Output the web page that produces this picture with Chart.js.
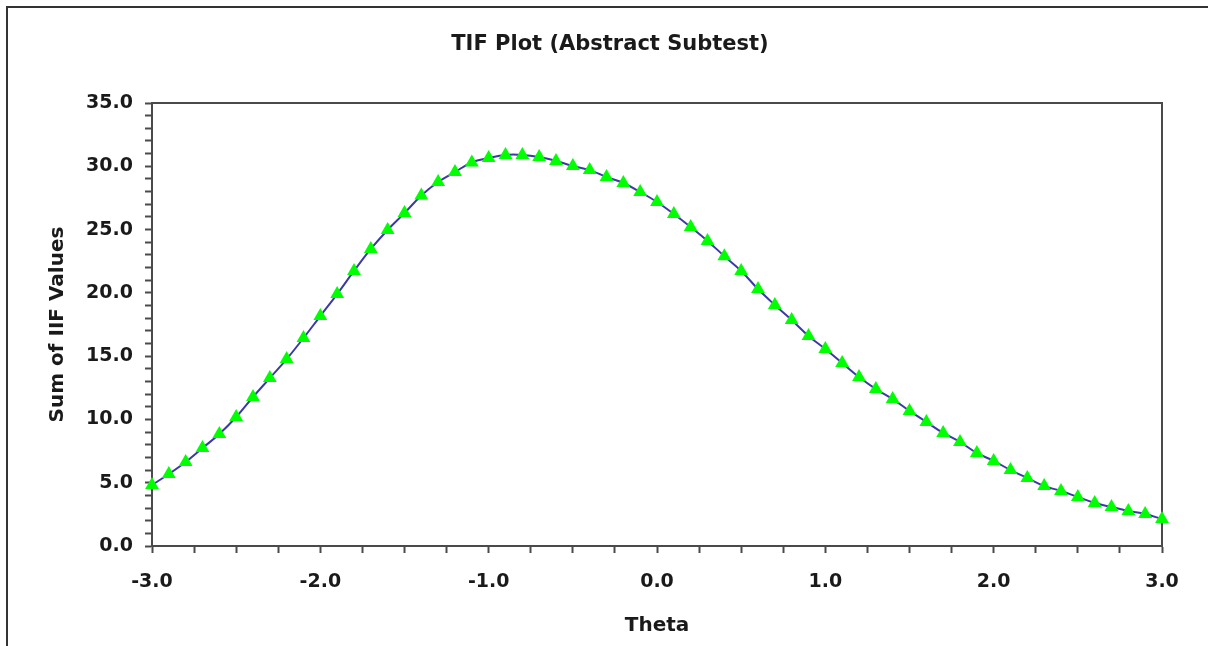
<!DOCTYPE html>
<html>
<head>
<meta charset="utf-8">
<title>TIF Plot (Abstract Subtest)</title>
<script src="https://cdn.jsdelivr.net/npm/chart.js@4.4.1/dist/chart.umd.min.js"></script>
<style>
  html, body { margin: 0; padding: 0; background: #ffffff; }
  #wrap { width: 1208px; height: 646px; position: relative; }
</style>
</head>
<body>
<div id="wrap"><canvas id="tif" width="1208" height="646"></canvas></div>
<script>
// Ability levels (theta) at which the test information function is evaluated
const theta = [
  -3.0, -2.9, -2.8, -2.7, -2.6, -2.5, -2.4, -2.3, -2.2, -2.1,
  -2.0, -1.9, -1.8, -1.7, -1.6, -1.5, -1.4, -1.3, -1.2, -1.1,
  -1.0, -0.9, -0.8, -0.7, -0.6, -0.5, -0.4, -0.3, -0.2, -0.1,
   0.0,  0.1,  0.2,  0.3,  0.4,  0.5,  0.6,  0.7,  0.8,  0.9,
   1.0,  1.1,  1.2,  1.3,  1.4,  1.5,  1.6,  1.7,  1.8,  1.9,
   2.0,  2.1,  2.2,  2.3,  2.4,  2.5,  2.6,  2.7,  2.8,  2.9,
   3.0
];

// Sum of item information function values at each theta
const tifValues = [
   4.82,  5.69,  6.64,  7.74,  8.85, 10.19, 11.77, 13.27, 14.77, 16.43,
  18.17, 19.90, 21.73, 23.47, 24.97, 26.30, 27.70, 28.76, 29.55, 30.30,
  30.65, 30.90, 30.90, 30.73, 30.42, 30.02, 29.70, 29.15, 28.68, 27.97,
  27.18, 26.23, 25.20, 24.10, 22.90, 21.73, 20.30, 19.04, 17.86, 16.60,
  15.56, 14.46, 13.35, 12.40, 11.61, 10.67,  9.80,  8.93,  8.22,  7.35,
   6.72,  6.00,  5.37,  4.74,  4.35,  3.87,  3.40,  3.08,  2.77,  2.53,
   2.13
];

// Axis settings
const xMin = -3, xMax = 3, xStep = 0.25;   // labelled every 1.0
const yMin = 0, yMax = 35, yStep = 1;      // labelled every 5.0
const yLabelEvery = 5;

const chartTitle = 'TIF Plot (Abstract Subtest)';
const xTitle = 'Theta';
const yTitle = 'Sum of IIF Values';

const FONT = '"DejaVu Sans", "Liberation Sans", Arial, sans-serif';
const AXIS_COLOR = '#4a4a4a';
const TEXT_COLOR = '#1a1a1a';

// Frame around the whole figure (left and top edges visible)
const outerFrame = {
  id: 'outerFrame',
  beforeDraw(chart) {
    const ctx = chart.ctx;
    ctx.save();
    ctx.strokeStyle = '#333333';
    ctx.lineWidth = 2;
    ctx.beginPath();
    ctx.moveTo(7, chart.height + 5);
    ctx.lineTo(7, 7);
    ctx.lineTo(chart.width + 5, 7);
    ctx.stroke();
    ctx.restore();
  }
};

// Top and right edges of the plot box
const plotBox = {
  id: 'plotBox',
  beforeDatasetsDraw(chart) {
    const { ctx, chartArea: a } = chart;
    ctx.save();
    ctx.strokeStyle = AXIS_COLOR;
    ctx.lineWidth = 2;
    ctx.beginPath();
    ctx.moveTo(a.left, a.top);
    ctx.lineTo(a.right, a.top);
    ctx.lineTo(a.right, a.bottom);
    ctx.stroke();
    ctx.restore();
  }
};

const near = (v, n) => Math.abs(v / n - Math.round(v / n)) < 1e-6;

const PAD_LEFT = 58;

new Chart(document.getElementById('tif'), {
  type: 'line',
  data: {
    datasets: [{
      label: yTitle,
      data: theta.map((t, i) => ({ x: t, y: tifValues[i] })),
      borderColor: '#3a3aa6',
      borderWidth: 2,
      tension: 0.4,
      pointStyle: 'triangle',
      pointRadius: 8,
      pointHoverRadius: 8,
      pointBackgroundColor: '#00ff00',
      pointBorderColor: '#00ff00',
      pointBorderWidth: 0,
      clip: false
    }]
  },
  options: {
    responsive: false,
    animation: false,
    events: [],
    layout: { padding: { left: PAD_LEFT, right: 46, top: 0, bottom: 0 } },
    plugins: {
      legend: { display: false },
      tooltip: { enabled: false },
      title: {
        display: true,
        text: chartTitle,
        color: TEXT_COLOR,
        font: { family: FONT, size: 21, weight: 'bold', lineHeight: 1.2 },
        padding: { top: 32, bottom: 45.8 }
      }
    },
    scales: {
      x: {
        type: 'linear',
        min: xMin,
        max: xMax,
        afterFit(scale) { scale.height = 100; },
        grid: {
          drawOnChartArea: false,
          drawTicks: true,
          tickLength: 7,
          tickWidth: 2,
          tickColor: AXIS_COLOR
        },
        border: { display: true, color: AXIS_COLOR, width: 2 },
        ticks: {
          stepSize: xStep,
          autoSkip: false,
          maxRotation: 0,
          padding: 18,
          color: TEXT_COLOR,
          font: { family: FONT, size: 19, weight: 'bold' },
          callback: v => near(v, 1) ? Number(v).toFixed(1) : ''
        },
        title: {
          display: true,
          text: xTitle,
          color: TEXT_COLOR,
          font: { family: FONT, size: 20, weight: 'bold', lineHeight: 1.2 },
          padding: { top: 0, bottom: 8 }
        }
      },
      y: {
        type: 'linear',
        min: yMin,
        max: yMax,
        afterFit(scale) { scale.width = 152 - PAD_LEFT; },
        grid: {
          drawOnChartArea: false,
          drawTicks: true,
          tickLength: 7,
          tickWidth: 2,
          tickColor: AXIS_COLOR
        },
        border: { display: true, color: AXIS_COLOR, width: 2 },
        ticks: {
          stepSize: yStep,
          autoSkip: false,
          padding: 12,
          color: TEXT_COLOR,
          font: { family: FONT, size: 19, weight: 'bold' },
          callback: v => near(v, yLabelEvery) ? Number(v).toFixed(1) : ''
        },
        title: {
          display: true,
          text: yTitle,
          color: TEXT_COLOR,
          font: { family: FONT, size: 20, weight: 'bold', lineHeight: 1.2 },
          padding: { top: -12, bottom: 0 }
        }
      }
    }
  },
  plugins: [outerFrame, plotBox]
});
</script>
</body>
</html>
